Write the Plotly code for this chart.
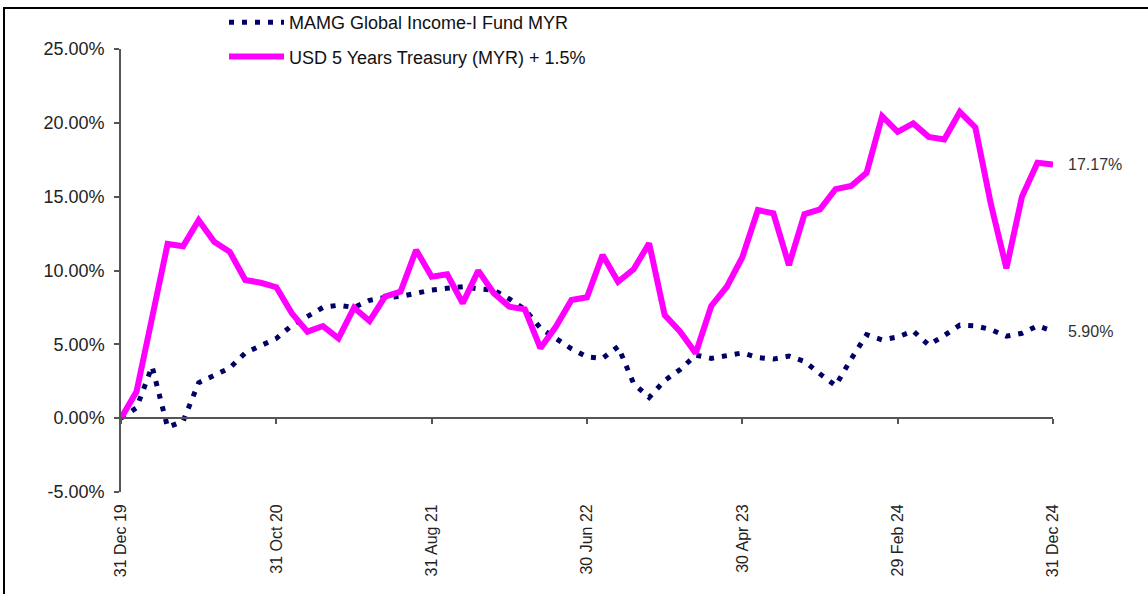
import plotly.graph_objects as go
import pandas as pd

# Month-end categories, 31 Dec 19 .. 31 Dec 24
months = [d.strftime('%d %b %y') for d in pd.date_range('2019-12-31', periods=61, freq='ME')]

fund_name = 'MAMG Global Income-I Fund MYR'
bench_name = 'USD 5 Years Treasury (MYR) + 1.5%'

fund = [0.0, 0.7, 3.5, -0.62, -0.2, 2.4, 2.9, 3.4, 4.42, 4.92,
        5.4, 6.28, 6.93, 7.5, 7.65, 7.5, 7.98, 8.17, 8.24, 8.45,
        8.68, 8.8, 8.9, 8.75, 8.67, 8.08, 7.37, 6.1, 5.35, 4.7,
        4.15, 4.05, 4.85, 2.35, 1.4, 2.55, 3.3, 4.27, 4.05, 4.2,
        4.42, 4.1, 4.0, 4.2, 3.85, 3.0, 2.2, 4.0, 5.65, 5.3,
        5.5, 5.9, 4.95, 5.6, 6.3, 6.25, 6.0, 5.55, 5.75, 6.25,
        5.90]

bench = [0.0, 1.8, 6.8, 11.8, 11.65, 13.4, 11.95, 11.27, 9.36, 9.17,
         8.87, 7.1, 5.86, 6.24, 5.41, 7.48, 6.58, 8.23, 8.57, 11.39,
         9.58, 9.74, 7.78, 9.99, 8.46, 7.55, 7.37, 4.74, 6.2, 8.0,
         8.19, 11.05, 9.24, 10.08, 11.84, 6.99, 5.86, 4.40, 7.6, 8.9,
         10.9, 14.09, 13.87, 10.37, 13.82, 14.14, 15.51, 15.72, 16.62, 20.45,
         19.39, 19.96, 19.05, 18.88, 20.74, 19.69, 14.5, 10.15, 14.99, 17.29,
         17.17]

x_tick_labels = months[::10]
y_tick_values = [25, 20, 15, 10, 5, 0, -5]
y_tick_labels = ['25.00%', '20.00%', '15.00%', '10.00%', '5.00%', '0.00%', '-5.00%']

FONT = 'Liberation Sans, Arial, sans-serif'
NAVY = '#000066'
MAGENTA = '#FF00FF'
AXIS = '#555555'

W, H = 1148, 594
ML, MR, MT, MB = 121, 95, 49, 102
PW, PH = W - ML - MR, H - MT - MB

fig = go.Figure()
fig.add_trace(go.Scatter(
    x=months, y=fund, mode='lines', name=fund_name, legendgroup='fund',
    line=dict(color=NAVY, width=5, dash='5px,8px')))
fig.add_trace(go.Scatter(
    x=months, y=bench, mode='lines', name=bench_name, legendgroup='bench',
    line=dict(color=MAGENTA, width=6)))

for series in (bench, fund):
    fig.add_annotation(x=months[-1], y=series[-1], xref='x', yref='y',
                       text=f'{series[-1]:.2f}%', showarrow=False,
                       xanchor='left', yanchor='middle', xshift=13,
                       font=dict(family=FONT, size=16, color='#333333'))

# outer frame of the chart image
fig.add_shape(type='rect', xref='paper', yref='paper', layer='below',
              x0=(4 - ML) / PW, x1=(W + 20 - ML) / PW,
              y0=-(H + 20 - MT - PH) / PH, y1=1 + (MT - 8) / PH,
              line=dict(color='black', width=2), fillcolor='rgba(0,0,0,0)')

fig.update_layout(
    width=W, height=H,
    margin=dict(l=ML, r=MR, t=MT, b=MB, autoexpand=False),
    paper_bgcolor='white', plot_bgcolor='white',
    font=dict(family=FONT, color='#111111'),
    showlegend=True,
    legend=dict(x=(224 - ML) / PW, y=1 + (MT - 4) / PH, xanchor='left', yanchor='top',
                font=dict(family=FONT, size=18, color='#111111'),
                itemwidth=55, tracegroupgap=8, bgcolor='rgba(0,0,0,0)',
                traceorder='grouped'),
    xaxis=dict(type='category', range=[0, 60], anchor='free', position=5 / 30,
               showline=True, linecolor=AXIS, linewidth=1.5,
               ticks='outside', ticklen=5, tickcolor=AXIS, tickwidth=1.5,
               tickmode='array', tickvals=x_tick_labels, ticktext=x_tick_labels,
               tickangle=-90, ticklabelstandoff=74,
               tickfont=dict(family=FONT, size=16, color='#222222'),
               showgrid=False, zeroline=False),
    yaxis=dict(range=[-5, 25], showline=True, linecolor=AXIS, linewidth=1.5,
               ticks='outside', ticklen=5, tickcolor=AXIS, tickwidth=1.5,
               tickmode='array', tickvals=y_tick_values, ticktext=y_tick_labels,
               ticklabelstandoff=6,
               tickfont=dict(family=FONT, size=18, color='#222222'),
               showgrid=False, zeroline=False),
)

fig.write_html('out.html', config={'displayModeBar': False},
               post_script="document.body.style.margin='0';")
